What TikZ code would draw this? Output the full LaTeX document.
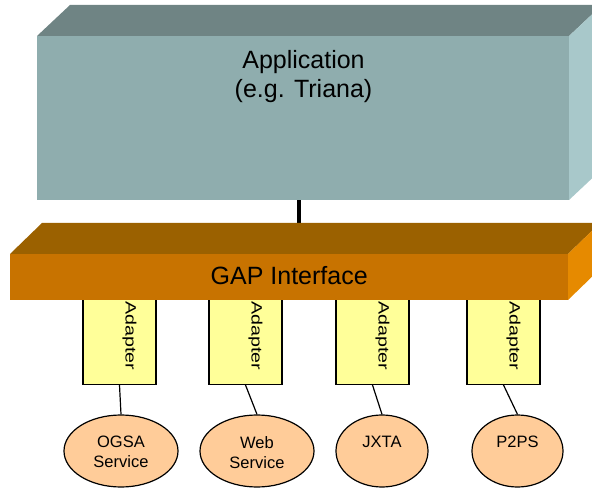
\documentclass[tikz,border=0pt]{standalone}
\usepackage{fontspec}
\setmainfont{Liberation Sans}
\usetikzlibrary{shapes.geometric}

\definecolor{apptop}{RGB}{111,132,132}
\definecolor{appfront}{RGB}{143,173,174}
\definecolor{appside}{RGB}{168,200,202}
\definecolor{gaptop}{RGB}{155,97,0}
\definecolor{gapfront}{RGB}{200,115,0}
\definecolor{gapside}{RGB}{230,138,0}
\definecolor{adapterfill}{RGB}{255,255,153}
\definecolor{servicefill}{RGB}{255,204,153}

\tikzset{
  appface/.style={fill=appfront, draw=none, rectangle, inner sep=0pt,
    minimum width=532pt, minimum height=164pt, anchor=north west},
  gapface/.style={fill=gapfront, draw=none, rectangle, inner sep=0pt,
    minimum width=558pt, minimum height=46pt, anchor=north west},
  adapterbox/.style={fill=adapterfill, draw=black, line width=1.2pt,
    rectangle, inner sep=0pt, minimum width=73pt, minimum height=95pt,
    anchor=south},
  adapterlabel/.style={rotate=-90, inner sep=0pt,
    font=\fontsize{15}{17}\selectfont},
  service/.style={ellipse, fill=servicefill, draw=black, line width=1.2pt,
    inner sep=0pt, minimum height=72pt},
  servicetext/.style={align=center, inner sep=0pt,
    font=\fontsize{16.5}{20}\selectfont},
  link/.style={draw=black, line width=1.2pt},
}

\begin{document}
\begin{tikzpicture}[x=1pt, y=-1pt]
\useasboundingbox (0,0) rectangle (592,489);
\clip (0,0) rectangle (592,489);

% Application block (3D slab)
\fill[apptop] (37,36) -- (70,5) -- (602,5) -- (569,36) -- cycle;
\fill[appside] (569,36) -- (602,5) -- (602,169) -- (569,200) -- cycle;
\node[appface] (app) at (37,36) {};
\node[align=center, inner sep=0pt, font=\fontsize{25}{29.5}\selectfont]
  (apptext) at (303.5,76.5) {Application\\(e.g. Triana)};

% link from the application down to the interface bar
\coordinate (gapback) at (299,223);
\draw[line width=4pt] (app.south -| gapback) -- (gapback);

% adapters (their tops are hidden behind the interface bar)
\node[adapterbox] (ad1) at (119.5,385) {};
\node[adapterbox] (ad2) at (245.5,385) {};
\node[adapterbox] (ad3) at (372.5,385) {};
\node[adapterbox] (ad4) at (503.5,385) {};
\foreach \a in {1,2,3,4}{
  \node[adapterlabel] (adl\a) at ([xshift=10pt,yshift=1pt]ad\a.center)
    {\scalebox{1.31}[1]{Adapter}};
}

% GAP interface bar (3D slab)
\fill[gaptop] (10,254) -- (42,223) -- (600,223) -- (568,254) -- cycle;
\fill[gapside] (568,254) -- (600,223) -- (600,269) -- (568,300) -- cycle;
\node[gapface] (gap) at (10,254) {};
\node[inner sep=0pt, font=\fontsize{25}{29}\selectfont] (gaptext)
  at ([yshift=1.5pt]gap.center) {GAP Interface};

% services (text sits in the upper part, as a top-aligned label)
\node[service, minimum width=114pt] (ogsa) at (121,451) {};
\node[service, minimum width=114pt] (web)  at (257,451) {};
\node[service, minimum width=92pt]  (jxta) at (382,451) {};
\node[service, minimum width=91pt]  (p2ps) at (517.5,451) {};
\node[servicetext, anchor=north] (ogsat) at (121,436) {OGSA\\Service};
\node[servicetext, anchor=north] (webt)  at (257,436) {Web\\Service};
\node[servicetext, anchor=north] (jxtat) at (382,436) {JXTA};
\node[servicetext, anchor=north] (p2pst) at (517.5,436) {P2PS};

% adapter-to-service links
\draw[link] (ad1.south) -- (ogsa.north);
\draw[link] (ad2.south) -- (web.north);
\draw[link] (ad3.south) -- (jxta.north);
\draw[link] (ad4.south) -- (p2ps.north);
\end{tikzpicture}
\end{document}
